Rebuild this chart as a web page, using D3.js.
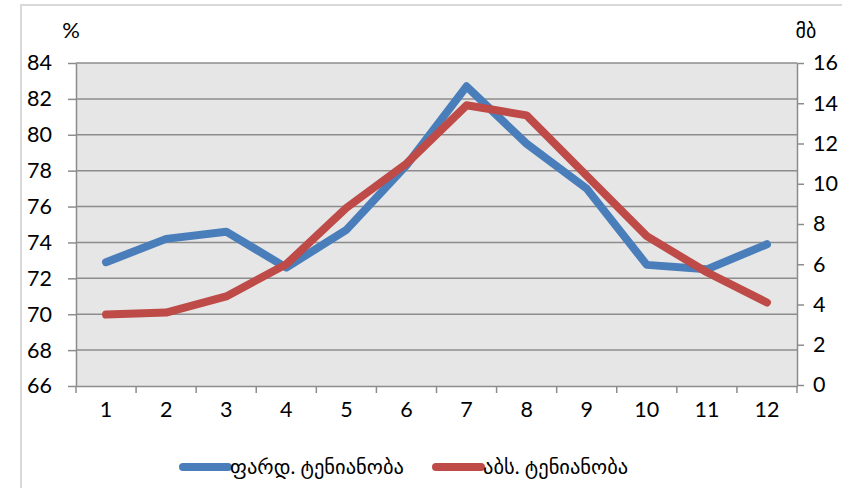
<!DOCTYPE html>
<html>
<head>
<meta charset="utf-8">
<script src="https://cdn.jsdelivr.net/npm/d3@7"></script>
<style>
  html, body { margin: 0; padding: 0; background: #fff; }
  svg text { font-family: Lato, "DejaVu Sans", sans-serif; fill: #000; }
</style>
</head>
<body>
<svg id="chart" width="842" height="488"></svg>
<script>
// Monthly humidity: relative (%) on the left axis, absolute (mb) on the right axis
const months = [1, 2, 3, 4, 5, 6, 7, 8, 9, 10, 11, 12];
const relHumidity = [72.9, 74.2, 74.6, 72.6, 74.7, 78.3, 82.7, 79.5, 77.0, 72.75, 72.5, 73.9];
const absHumidity = [3.5, 3.6, 4.4, 6.0, 8.8, 11.0, 13.9, 13.4, 10.4, 7.4, 5.6, 4.1];
const leftTicks = [66, 68, 70, 72, 74, 76, 78, 80, 82, 84];
const rightTicks = [0, 2, 4, 6, 8, 10, 12, 14, 16];
const seriesNames = ["ფარდ. ტენიანობა", "აბს. ტენიანობა"];
const leftUnit = "%";
const rightUnit = "მბ";

const colors = ["#4A7EBB", "#BE4B48"];
const svg = d3.select("#chart");
const plot = { left: 76, right: 797, top: 63, bottom: 386 };
const tickFont = 21.5;

// outer chart frame
svg.append("rect")
  .attr("x", 21).attr("y", 5).attr("width", 900).attr("height", 600)
  .attr("fill", "none").attr("stroke", "#d9d9d9").attr("stroke-width", 2);

// plot background
svg.append("rect")
  .attr("x", plot.left).attr("y", plot.top)
  .attr("width", plot.right - plot.left).attr("height", plot.bottom - plot.top)
  .attr("fill", "#e6e6e6");

const x = d3.scaleBand().domain(months).range([plot.left, plot.right]);
const yL = d3.scaleLinear().domain([66, 84]).range([plot.bottom, plot.top]);
const yR = d3.scaleLinear().domain([0, 16]).range([plot.bottom - 1, plot.top]);

// horizontal gridlines
svg.append("g").selectAll("line").data(leftTicks.slice(1)).join("line")
  .attr("x1", plot.left).attr("x2", plot.right)
  .attr("y1", d => yL(d)).attr("y2", d => yL(d))
  .attr("stroke", "#8c8c8c").attr("stroke-width", 1.5);

const axisStyle = g => {
  g.selectAll(".domain").attr("stroke", "#8c8c8c").attr("stroke-width", 1.5);
  g.selectAll(".tick line").attr("stroke", "#8c8c8c").attr("stroke-width", 1.5);
  g.selectAll(".tick text").attr("font-size", tickFont).attr("fill", "#000");
};

// left axis
svg.append("g").attr("transform", `translate(${plot.left},0)`)
  .call(d3.axisLeft(yL).tickValues(leftTicks).tickSize(8).tickSizeOuter(0).tickPadding(16))
  .call(axisStyle);

// right axis
svg.append("g").attr("transform", `translate(${plot.right},0)`)
  .call(d3.axisRight(yR).tickValues(rightTicks).tickSize(7).tickSizeOuter(0).tickPadding(9))
  .call(axisStyle);

// bottom axis: ticks at category boundaries, labels centred
const xAxis = svg.append("g").attr("transform", `translate(0,${plot.bottom})`)
  .call(d3.axisBottom(x).tickSize(0).tickPadding(31))
  .call(axisStyle);
xAxis.selectAll(".tick text").attr("dy", "0");
const bounds = months.map(m => x(m)).concat([plot.right]);
svg.append("g").selectAll("line").data(bounds).join("line")
  .attr("x1", d => d).attr("x2", d => d)
  .attr("y1", plot.bottom).attr("y2", plot.bottom + 7)
  .attr("stroke", "#8c8c8c").attr("stroke-width", 1.5);

// unit labels
svg.append("text").attr("x", 71).attr("y", 38).attr("text-anchor", "middle")
  .attr("font-size", 22).text(leftUnit);
svg.append("text").attr("x", 806).attr("y", 38).attr("text-anchor", "middle")
  .attr("font-size", 20).text(rightUnit);

// series lines
const cx = m => x(m) + x.bandwidth() / 2;
const lineL = d3.line().x((d, i) => cx(months[i])).y(d => yL(d));
const lineR = d3.line().x((d, i) => cx(months[i])).y(d => yR(d));

svg.append("path").datum(relHumidity).attr("d", lineL)
  .attr("fill", "none").attr("stroke", colors[0]).attr("stroke-width", 8)
  .attr("stroke-linejoin", "round").attr("stroke-linecap", "round");
svg.append("path").datum(absHumidity).attr("d", lineR)
  .attr("fill", "none").attr("stroke", colors[1]).attr("stroke-width", 8)
  .attr("stroke-linejoin", "round").attr("stroke-linecap", "round");

// legend
const legendItems = [
  { name: seriesNames[0], color: colors[0], x: 183 },
  { name: seriesNames[1], color: colors[1], x: 436 }
];
const lg = svg.append("g").selectAll("g").data(legendItems).join("g")
  .attr("transform", d => `translate(${d.x},467)`);
lg.append("line").attr("x1", 0).attr("x2", 45).attr("y1", 0).attr("y2", 0)
  .attr("stroke", d => d.color).attr("stroke-width", 8).attr("stroke-linecap", "round");
lg.append("text").attr("x", 47).attr("y", 0).attr("dy", "0.35em")
  .attr("font-size", 20.5).text(d => d.name);
</script>
</body>
</html>
